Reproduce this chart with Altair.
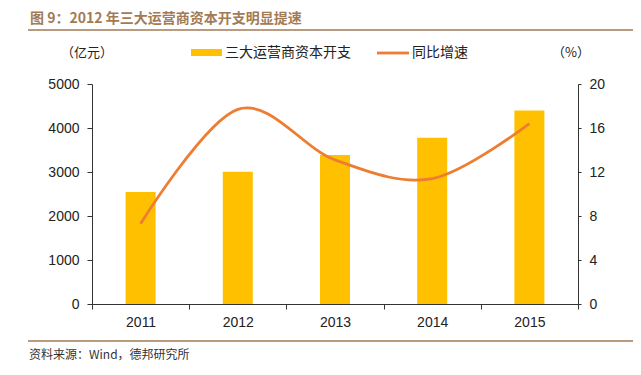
import altair as alt
import pandas as pd

years = ["2011", "2012", "2013", "2014", "2015"]
capex = [2545, 3005, 3385, 3780, 4400]
growth = [7.3, 17.7, 13.1, 11.4, 16.4]

title_text = "图 9：2012 年三大运营商资本开支明显提速"
footer_text = "资料来源：Wind，德邦研究所"
left_unit = "（亿元）"
right_unit = "（%）"
legend_bar = "三大运营商资本开支"
legend_line = "同比增速"

BAR_COLOR = "#FFC000"
LINE_COLOR = "#ED7D31"
BROWN = "#A27B55"
CJK = "Noto Sans CJK SC"
LAT = "Liberation Sans"

df = pd.DataFrame({"year": years, "capex": capex, "growth": growth})

x_enc = alt.X(
    "year:N",
    scale=alt.Scale(paddingInner=0, paddingOuter=0),
    axis=alt.Axis(
        title=None, labelAngle=0, tickBand="extent", tickSize=5,
        labelPadding=6, labelFontSize=14, labelFont=LAT, labelColor="#222",
        domainColor="#333", tickColor="#333",
    ),
)

bars = alt.Chart(df).mark_bar(color=BAR_COLOR, size=30).encode(
    x=x_enc,
    y=alt.Y(
        "capex:Q",
        scale=alt.Scale(domain=[0, 5000], nice=False),
        axis=alt.Axis(
            title=None, orient="left", values=[0, 1000, 2000, 3000, 4000, 5000],
            format="d", grid=False, tickSize=5, labelPadding=8, labelFontSize=14,
            labelFont=LAT, labelColor="#222", domainColor="#333", tickColor="#333",
        ),
    ),
)

line = alt.Chart(df).mark_line(
    color=LINE_COLOR, strokeWidth=2.8, interpolate="cardinal"
).encode(
    x=x_enc,
    y=alt.Y(
        "growth:Q",
        scale=alt.Scale(domain=[0, 20], nice=False),
        axis=alt.Axis(
            title=None, orient="right", values=[0, 4, 8, 12, 16, 20],
            format="d", grid=False, tickSize=3, labelPadding=8, labelFontSize=14,
            labelFont=LAT, labelColor="#222", domainColor="#333", tickColor="#333",
        ),
    ),
)


def txt(s, x, y, size, font=CJK, color="#222", weight="normal"):
    return alt.Chart(pd.DataFrame({"label": [s]})).mark_text(
        align="left", baseline="middle", fontSize=size, font=font,
        color=color, fontWeight=weight,
    ).encode(x=alt.value(x), y=alt.value(y), text="label:N")


def hrule(x1, x2, y, color, width):
    return alt.Chart(pd.DataFrame({"k": [0]})).mark_rule(
        color=color, strokeWidth=width
    ).encode(x=alt.value(x1), x2=alt.value(x2), y=alt.value(y))


title = txt(title_text, -62, -65, 14, color=BROWN, weight="bold")
title_rule = hrule(-64, 545, -54, BROWN, 1.5)
footer_rule = hrule(-64, 545, 257, BROWN, 1.5)
footer = txt(footer_text, -63, 271, 12, color="#333")
unit_l = txt(left_unit, -31, -31, 13)
unit_r = txt(right_unit, 460, -31, 13)

swatch = alt.Chart(pd.DataFrame({"k": [0]})).mark_rect(color=BAR_COLOR).encode(
    x=alt.value(99), x2=alt.value(130), y=alt.value(-35), y2=alt.value(-28)
)
leg_bar_txt = txt(legend_bar, 133, -31, 14)
leg_line = hrule(285, 317, -31, LINE_COLOR, 2.8)
leg_line_txt = txt(legend_line, 320, -31, 14)

chart = (
    alt.layer(
        bars, line, title, title_rule, footer_rule, footer, unit_l, unit_r,
        swatch, leg_bar_txt, leg_line, leg_line_txt,
    )
    .resolve_scale(y="independent")
    .properties(
        width=486, height=220,
        autosize=alt.AutoSizeParams(type="none"),
        padding={"left": 84, "top": 76, "right": 55, "bottom": 63},
        background="white",
    )
    .configure_view(stroke=None)
)

chart.save("out.html", embed_options={"renderer": "svg", "actions": False})
